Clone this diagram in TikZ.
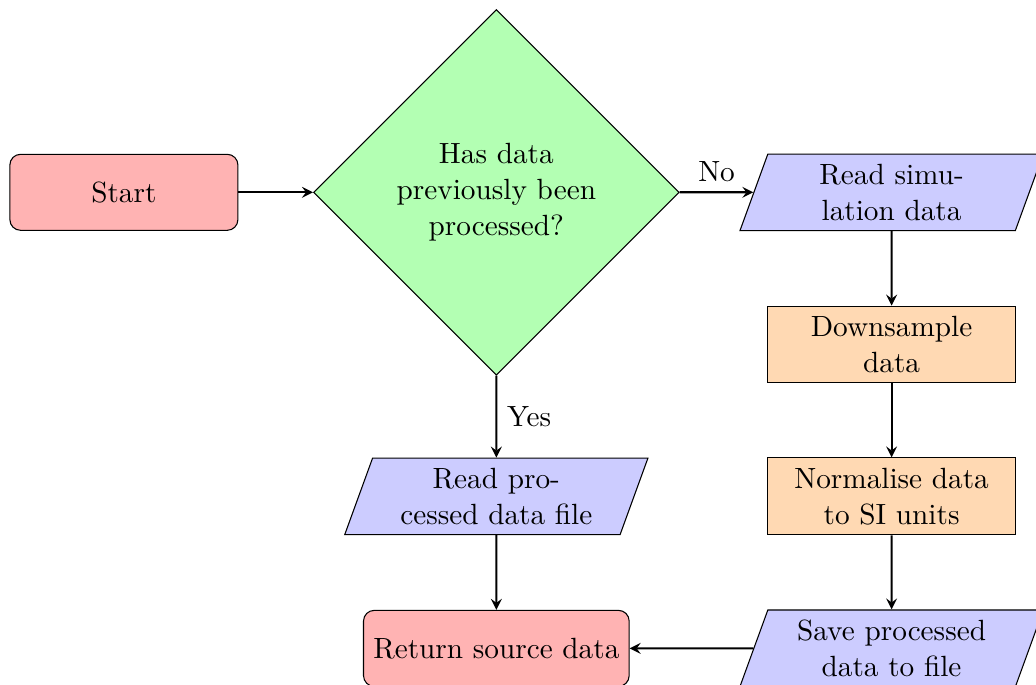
\documentclass[11pt,tikz,border=0pt]{standalone}
\usepackage{xcolor}
\definecolor{flow-red}{HTML}{FFB3B3}
\definecolor{flow-green}{HTML}{B3FFB3}
\definecolor{flow-blue}{HTML}{CCCCFF}
\definecolor{flow-orange}{HTML}{FFD9B3}
\usepackage{tikz}
\usetikzlibrary{shapes.geometric, arrows}

\tikzset{
    startstop/.style={rectangle, rounded corners, minimum width=3cm, minimum height=1cm,
        align=center, draw=black, fill=flow-red},
    io/.style={trapezium, trapezium left angle=70, trapezium right angle=110,
        minimum width=3cm, minimum height=1cm, text width=3cm, align=center,
        draw=black, fill=flow-blue},
    process/.style={rectangle, minimum width=3cm, minimum height=1cm, text width=3cm,
        align=center, draw=black, fill=flow-orange},
    decision/.style={diamond, minimum width=3cm, minimum height=1cm, text width=3cm,
        align=center, draw=black, fill=flow-green},
    flowarrow/.style={thick, ->, >=stealth}
}

\begin{document}
\begin{tikzpicture}

    % Page
    \useasboundingbox (-1.63, -6.47) rectangle (12.0, 2.53);

    % Steps
    \node[startstop] (start) at (0, 0) {Start};
    \node[decision] (processed) at (4.9, 0) {Has data previously been processed?};
    \node[io] (readsim) at (10.1, 0) {Read simulation data};
    \node[process] (downsample) at (10.1, -2) {Downsample data};
    \node[process] (normalise) at (10.1, -4) {Normalise data to SI units};
    \node[io] (save) at (10.1, -6) {Save processed data to file};
    \node[io] (readproc) at (4.9, -4) {Read processed data file};
    \node[startstop] (return) at (4.9, -6) {Return source data};

    % Arrows
    \draw[flowarrow] (start) -- (processed);
    \draw[flowarrow] (processed) -- node[above] {No} (readsim);
    \draw[flowarrow] (processed) -- node[right] {Yes} (readproc);
    \draw[flowarrow] (readproc) -- (return);
    \draw[flowarrow] (readsim) -- (downsample);
    \draw[flowarrow] (downsample) -- (normalise);
    \draw[flowarrow] (normalise) -- (save);
    \draw[flowarrow] (save) -- (return);

\end{tikzpicture}
\end{document}
